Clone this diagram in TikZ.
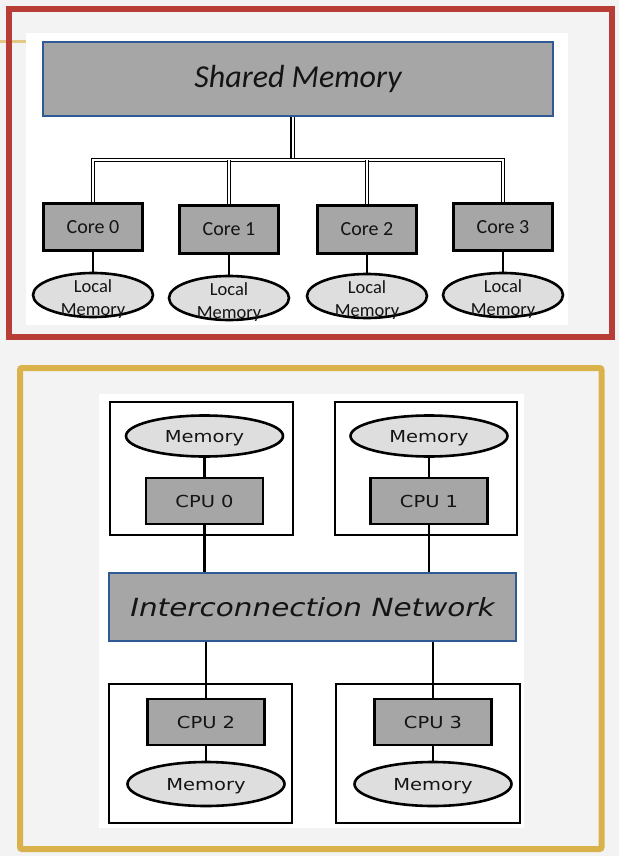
\documentclass[tikz,border=0pt]{standalone}
\usepackage{fontspec}
\newfontfamily\calfont{Carlito}
\newfontfamily\verfont{DejaVu Sans}
\usetikzlibrary{shapes.geometric}
\definecolor{redf}{HTML}{B83D36}
\definecolor{goldf}{HTML}{D9B24C}
\definecolor{goldl}{HTML}{E3C983}
\definecolor{bluec}{HTML}{2F5A93}
\definecolor{boxgray}{HTML}{A6A6A6}
\definecolor{ellgray}{HTML}{DEDEDE}
\definecolor{bgc}{HTML}{F3F3F3}
\definecolor{txt}{HTML}{141414}
\newcommand\wideTxt[1]{\scalebox{1.18}[1]{#1}}
\begin{document}
\begin{tikzpicture}[x=1pt,y=-1pt,
  bigbox/.style={draw=bluec, line width=1.8pt, fill=boxgray, inner sep=0pt, text=txt},
  corebox/.style={draw=black, line width=3pt, fill=boxgray, minimum width=99pt, minimum height=47.5pt, inner sep=0pt, text=txt, font=\calfont\fontsize{20}{24}\selectfont},
  lmem/.style={ellipse, draw=black, line width=2.6pt, fill=ellgray, minimum width=120pt, minimum height=44pt, inner sep=0pt},
  lmemtxt/.style={align=center, inner sep=0pt, text=txt, font=\calfont\fontsize{18.5}{23}\selectfont},
  dbl/.style={draw=black, line width=1.3pt, double=white, double distance=2pt},
  conn/.style={draw=black, line width=2.8pt},
  obox/.style={draw=black, line width=2.6pt, fill=white, inner sep=0pt},
  cpubox/.style={draw=black, line width=2.9pt, fill=boxgray, minimum width=117pt, minimum height=46pt, inner sep=0pt, text=txt, font=\verfont\fontsize{16.5}{20}\selectfont},
  memell/.style={ellipse, draw=black, line width=2.6pt, fill=ellgray, minimum width=157pt, minimum height=41pt, inner sep=0pt, text depth=0pt, text=txt, font=\verfont\fontsize{16.5}{20}\selectfont}
]
\useasboundingbox (0,0) rectangle (619,856);
\fill[bgc] (0,0) rectangle (619,856);
% decorative gold stub
\draw[goldl, line width=3pt] (0,41.5) -- (26,41.5);
% white panels
\fill[white] (26,33) rectangle (568,325);
\fill[white] (99,394) rectangle (524,828);
% frames
\draw[redf, line width=6pt] (8.5,9.5) rectangle (611.5,337);
\draw[goldf, line width=6pt, rounded corners=2pt] (20,368) rectangle (601.5,849);

% ---------- shared memory ----------
\node[bigbox, minimum width=510pt, minimum height=74.5pt, font=\calfont\itshape\fontsize{32}{38}\selectfont] (sm) at (298,79) {Shared Memory};
\node[corebox] (c0) at (93,227) {Core 0};
\node[corebox] (c1) at (229,229.5) {Core 1};
\node[corebox] (c2) at (367,229.5) {Core 2};
\node[corebox] (c3) at (503,227) {Core 3};
\coordinate (bus) at (0,160);
\draw[dbl] ([xshift=-5.5pt]sm.south) -- ([xshift=-5.5pt]sm.south |- bus);
\draw[dbl] (c0.north) -- (c0.north |- bus) -- (c3.north |- bus) -- (c3.north);
\draw[dbl] (c1.north) -- (c1.north |- bus);
\draw[dbl] (c2.north) -- (c2.north |- bus);
\node[lmem] (m0) at (93,295) {};
\node[lmem] (m1) at (229,298) {};
\node[lmem] (m2) at (367,296) {};
\node[lmem] (m3) at (503,295) {};
\draw[conn] (c0.south) -- (m0.north);
\draw[conn] (c1.south) -- (m1.north);
\draw[conn] (c2.south) -- (m2.north);
\draw[conn] (c3.south) -- (m3.north);
\node[lmemtxt] (t0) at ([yshift=-4.5pt]m0.center) {Local\\Memory};
\node[lmemtxt] (t1) at ([yshift=-4.5pt]m1.center) {Local\\Memory};
\node[lmemtxt] (t2) at ([yshift=-4.5pt]m2.center) {Local\\Memory};
\node[lmemtxt] (t3) at ([yshift=-4.5pt]m3.center) {Local\\Memory};

% ---------- distributed memory ----------
\node[obox, minimum width=183pt, minimum height=133pt] (b0) at (201.5,468.5) {};
\node[obox, minimum width=182pt, minimum height=133pt] (b1) at (426,468.5) {};
\node[obox, minimum width=183pt, minimum height=139pt] (b2) at (200.5,753.5) {};
\node[obox, minimum width=184pt, minimum height=139pt] (b3) at (428,753.5) {};

\node[memell] (mem0) at (204.5,436) {\wideTxt{Memory}};
\node[memell] (mem1) at (429,436) {\wideTxt{Memory}};
\node[cpubox] (cpu0) at (204.5,501) {\wideTxt{CPU 0}};
\node[cpubox] (cpu1) at (429,501) {\wideTxt{CPU 1}};
\node[bigbox, minimum width=407.5pt, minimum height=68.5pt, font=\verfont\itshape\fontsize{25}{30}\selectfont] (in) at (312.5,607) {\wideTxt{Interconnection Network}};
\node[cpubox] (cpu2) at (206,722) {\wideTxt{CPU 2}};
\node[cpubox] (cpu3) at (433,722) {\wideTxt{CPU 3}};
\node[memell, minimum height=44pt] (mem2) at (206,784) {\wideTxt{Memory}};
\node[memell, minimum height=44pt] (mem3) at (433,784) {\wideTxt{Memory}};

\draw[conn] (mem0.south) -- (cpu0.north);
\draw[conn] (mem1.south) -- (cpu1.north);
\draw[conn] (cpu0.south) -- (cpu0.south |- in.north);
\draw[conn] (cpu1.south) -- (cpu1.south |- in.north);
\draw[conn] (cpu2.north |- in.south) -- (cpu2.north);
\draw[conn] (cpu3.north |- in.south) -- (cpu3.north);
\draw[conn] (cpu2.south) -- (mem2.north);
\draw[conn] (cpu3.south) -- (mem3.north);
\end{tikzpicture}
\end{document}
